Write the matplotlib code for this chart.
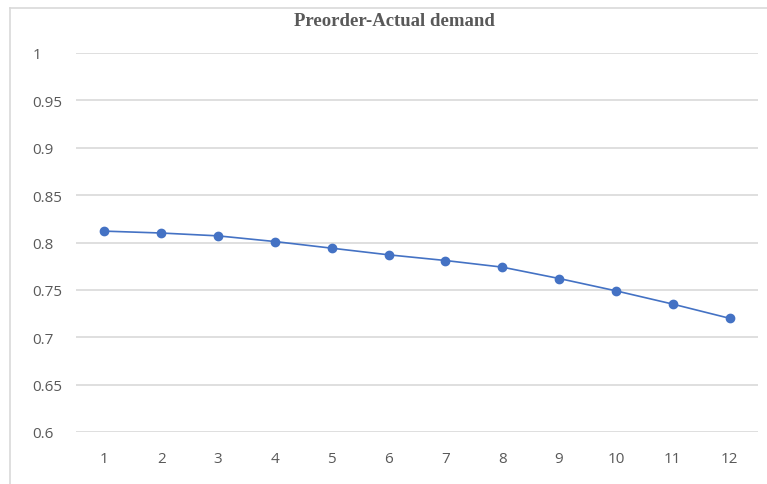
import matplotlib
matplotlib.use("Agg")

import matplotlib.pyplot as plt
from matplotlib.lines import Line2D

# Dữ liệu
periods = [1, 2, 3, 4, 5, 6, 7, 8, 9, 10, 11, 12]
ratio = [0.812, 0.810, 0.807, 0.801, 0.794, 0.787, 0.781, 0.774, 0.762, 0.749, 0.735, 0.720]
y_ticks = [0.6, 0.65, 0.7, 0.75, 0.8, 0.85, 0.9, 0.95, 1.0]
y_tick_labels = ["0.6", "0.65", "0.7", "0.75", "0.8", "0.85", "0.9", "0.95", "1"]

text_color = "#595959"
grid_color = "#D9D9D9"
line_color = "#4472C4"

fig = plt.figure(figsize=(7.67, 4.85), dpi=100)
ax = fig.add_axes([76 / 767, 1 - 433 / 485, (758 - 76) / 767, (433 - 54) / 485])

ax.plot(periods, ratio, color=line_color, linewidth=1.2,
        marker="o", markersize=6, zorder=3)

ax.set_xlim(0.5, 12.5)
ax.set_ylim(0.6, 1.0)
ax.set_xticks(periods)
ax.set_xticklabels([str(p) for p in periods])
ax.set_yticks(y_ticks)
ax.set_yticklabels(y_tick_labels)

ax.grid(axis="y", color=grid_color, linewidth=1.2)
ax.set_axisbelow(True)
for side in ["top", "right", "left", "bottom"]:
    ax.spines[side].set_visible(False)

ax.tick_params(axis="both", length=0, colors=text_color, labelsize=11)
ax.tick_params(axis="y", pad=31.5)
ax.tick_params(axis="x", pad=13.5)
for label in ax.get_yticklabels():
    label.set_horizontalalignment("left")
for label in ax.get_xticklabels() + ax.get_yticklabels():
    label.set_fontfamily("Open Sans")

fig.text(394 / 767, 1 - 21 / 485, "Preorder-Actual demand", ha="center", va="center",
         fontsize=13.5, fontweight="bold", color=text_color, family="Liberation Serif")

# Viền khung biểu đồ (trái và trên)
fig.add_artist(Line2D([10 / 767, 10 / 767], [0, 1 - 9 / 485], color=grid_color, linewidth=1.2))
fig.add_artist(Line2D([10 / 767, 1], [1 - 9 / 485, 1 - 9 / 485], color=grid_color, linewidth=1.2))

fig.savefig("out.png", dpi=100)
plt.close(fig)
